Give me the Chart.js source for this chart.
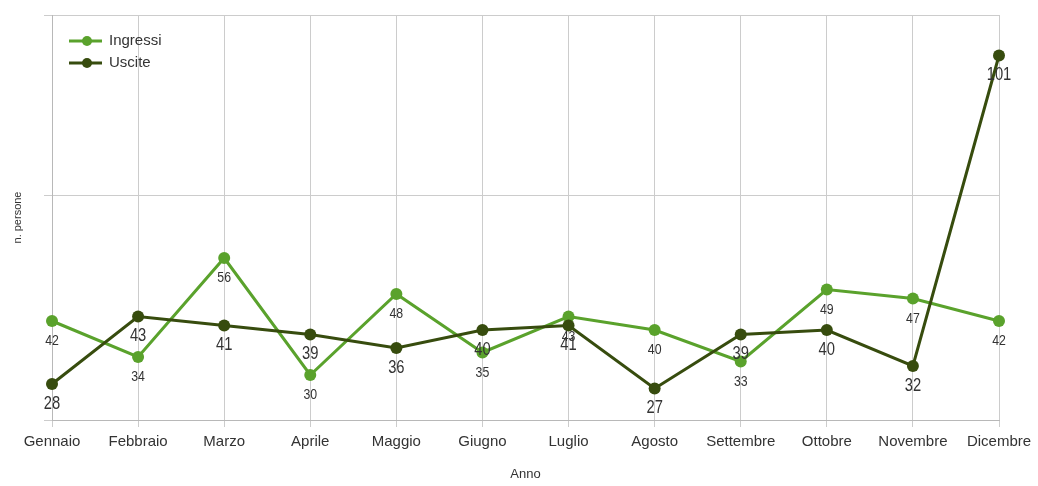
<!DOCTYPE html>
<html>
<head>
<meta charset="utf-8">
<script src="https://cdn.jsdelivr.net/npm/chart.js@4/dist/chart.umd.min.js"></script>
<style>
html, body { margin: 0; padding: 0; background: #fff; }
</style>
</head>
<body>
<canvas id="chart" width="1038" height="486"></canvas>
<script>
// ===== Dati =====
const mesi = ['Gennaio', 'Febbraio', 'Marzo', 'Aprile', 'Maggio', 'Giugno',
    'Luglio', 'Agosto', 'Settembre', 'Ottobre', 'Novembre', 'Dicembre'];
const ingressi = [42, 34, 56, 30, 48, 35, 43, 40, 33, 49, 47, 42];
const uscite = [28, 43, 41, 39, 36, 40, 41, 27, 39, 40, 32, 101];
const yTicks = [20, 70, 110];

const verde = '#5aa22c';
const verdeScuro = '#374c0e';

// ===== Valori sotto ai punti (testo un po' stretto) =====
const valueLabels = {
    id: 'valueLabels',
    afterDatasetsDraw(chart) {
        const ctx = chart.ctx;
        chart.data.datasets.forEach((ds, i) => {
            const meta = chart.getDatasetMeta(i);
            ctx.save();
            ctx.font = ds.labelFont;
            ctx.fillStyle = '#333';
            ctx.textAlign = 'center';
            ctx.textBaseline = 'middle';
            meta.data.forEach((pt, j) => {
                ctx.save();
                ctx.translate(pt.x, pt.y + 20);
                ctx.scale(0.82, 1);
                ctx.fillText(String(ds.data[j]), 0, 0);
                ctx.restore();
            });
            ctx.restore();
        });
    }
};

// ===== Legenda dentro l'area del grafico =====
const legendInside = {
    id: 'legendInside',
    afterDraw(chart) {
        const ctx = chart.ctx;
        const x0 = chart.chartArea.left + 17;
        chart.data.datasets.forEach((ds, i) => {
            const y = chart.chartArea.top + 26 + i * 22;
            ctx.save();
            ctx.strokeStyle = ds.borderColor;
            ctx.lineWidth = 3;
            ctx.beginPath();
            ctx.moveTo(x0, y);
            ctx.lineTo(x0 + 33, y);
            ctx.stroke();
            ctx.fillStyle = ds.borderColor;
            ctx.beginPath();
            ctx.arc(x0 + 18, y, 5, 0, Math.PI * 2);
            ctx.fill();
            ctx.fillStyle = '#333';
            ctx.font = '15px "Liberation Sans", Arial, sans-serif';
            ctx.textBaseline = 'middle';
            ctx.fillText(ds.label, x0 + 40, y);
            ctx.restore();
        });
    }
};

new Chart(document.getElementById('chart'), {
    type: 'line',
    data: {
        labels: mesi,
        datasets: [{
            label: 'Ingressi',
            data: ingressi,
            borderColor: verde,
            backgroundColor: verde,
            borderWidth: 3,
            pointRadius: 6,
            pointBorderWidth: 0,
            tension: 0,
            order: 2,
            labelFont: '15px "Liberation Sans", Arial, sans-serif'
        }, {
            label: 'Uscite',
            data: uscite,
            borderColor: verdeScuro,
            backgroundColor: verdeScuro,
            borderWidth: 3,
            pointRadius: 6,
            pointBorderWidth: 0,
            tension: 0,
            order: 1,
            labelFont: '18px "Liberation Sans", Arial, sans-serif'
        }]
    },
    options: {
        responsive: false,
        animation: false,
        layout: { padding: { top: 15, right: 39, left: 0, bottom: 0 } },
        scales: {
            x: {
                offset: false,
                grid: { color: '#cccccc', tickLength: 7 },
                border: { color: '#b8b8b8' },
                ticks: {
                    color: '#333',
                    font: { family: '"Liberation Sans", Arial, sans-serif', size: 15 },
                    padding: 6,
                    maxRotation: 0,
                    autoSkip: false
                },
                title: {
                    display: true,
                    text: 'Anno',
                    color: '#333',
                    font: { family: '"Liberation Sans", Arial, sans-serif', size: 13 },
                    padding: { top: 0, bottom: 4 }
                },
                afterFit(scale) { scale.height = 66; }
            },
            y: {
                min: 20,
                max: 110,
                afterBuildTicks(scale) {
                    scale.ticks = yTicks.map(v => ({ value: v }));
                },
                grid: { color: '#cccccc', tickLength: 8 },
                border: { color: '#b8b8b8' },
                ticks: { display: false },
                title: {
                    display: true,
                    text: 'n. persone',
                    color: '#333',
                    font: { family: '"Liberation Sans", Arial, sans-serif', size: 11 },
                    padding: { top: 11, bottom: 0 }
                },
                afterFit(scale) { scale.width = 52; }
            }
        },
        plugins: {
            legend: { display: false },
            tooltip: { enabled: false }
        }
    },
    plugins: [valueLabels, legendInside]
});
</script>
</body>
</html>
